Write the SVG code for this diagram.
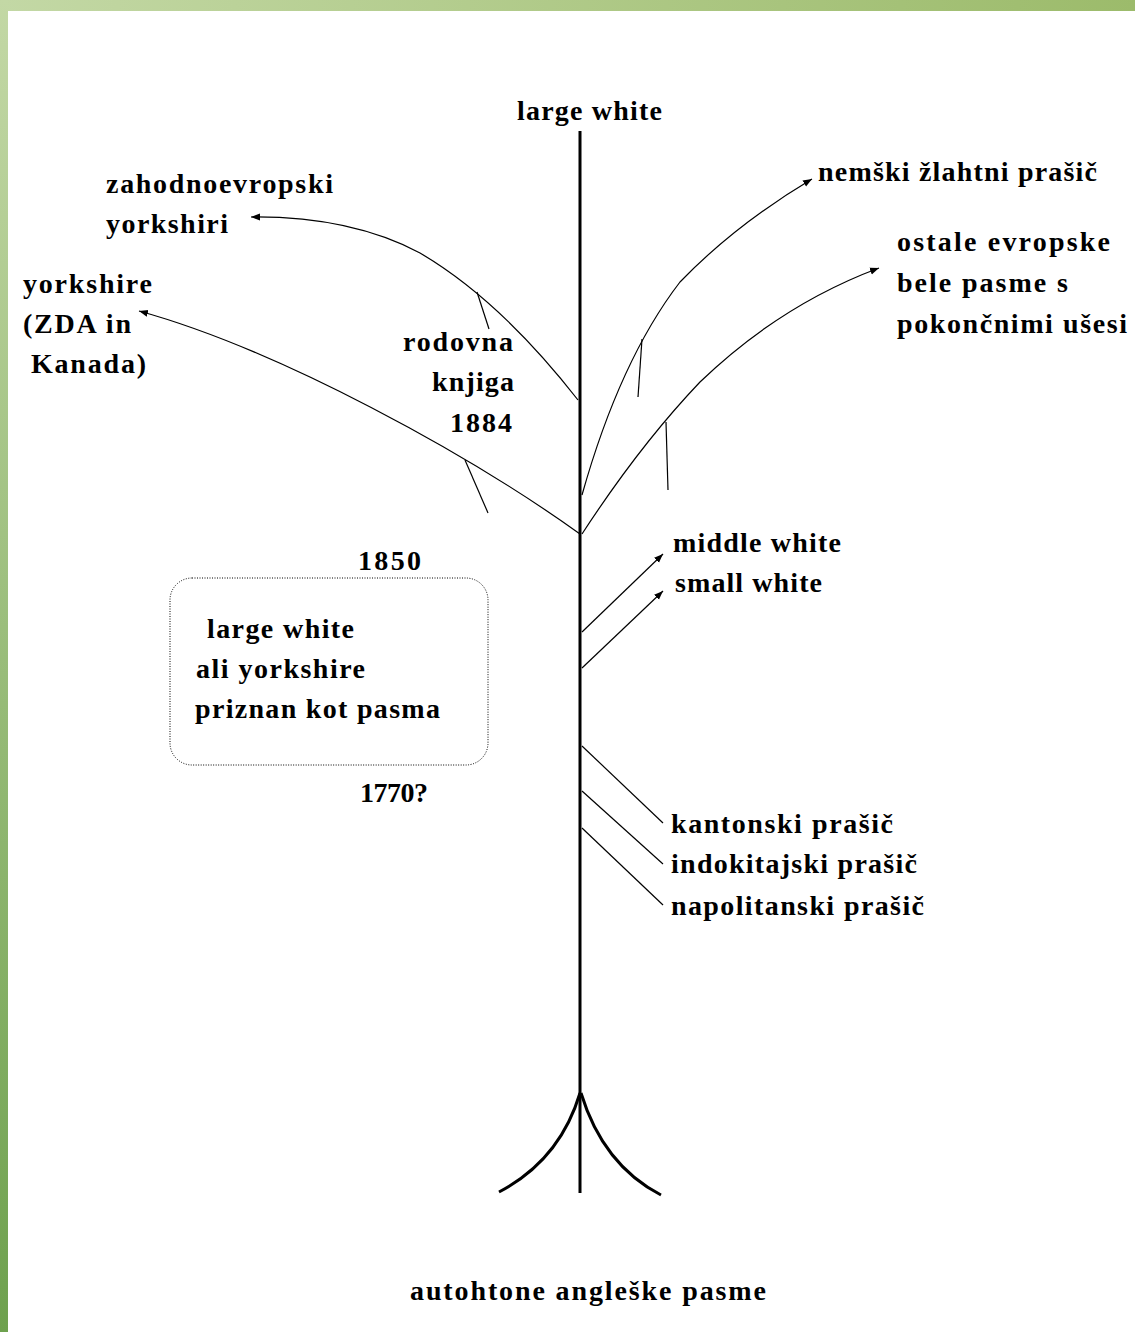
<svg xmlns="http://www.w3.org/2000/svg" width="1135" height="1332" viewBox="0 0 1135 1332">
  <defs>
    <linearGradient id="gTop" x1="0" y1="0" x2="1" y2="0">
      <stop offset="0" stop-color="#c3d8a5"/>
      <stop offset="1" stop-color="#9cbb6b"/>
    </linearGradient>
    <linearGradient id="gLeft" x1="0" y1="0" x2="0" y2="1">
      <stop offset="0" stop-color="#c3d8a5"/>
      <stop offset="1" stop-color="#6ea14e"/>
    </linearGradient>
    <marker id="arr" markerUnits="userSpaceOnUse" markerWidth="10" markerHeight="8" refX="9" refY="4" orient="auto">
      <path d="M0,0.5 L9,4 L0,7.5 z" fill="#000"/>
    </marker>
    <style>
      text { font-family: "Liberation Serif", "Times New Roman", serif; font-weight: bold; font-size: 28px; fill: #000; }
      .br { fill: none; stroke: #000; stroke-width: 1.2; }
      .ar { fill: none; stroke: #000; stroke-width: 1.2; marker-end: url(#arr); }
      .thick { fill: none; stroke: #000; stroke-width: 3; }
    </style>
  </defs>

  <rect x="0" y="0" width="1135" height="1332" fill="#fff"/>
  <rect x="0" y="0" width="1135" height="11" fill="url(#gTop)"/>
  <rect x="0" y="0" width="8" height="1332" fill="url(#gLeft)"/>

  <g id="connectors">
    <line class="thick" x1="580" y1="131" x2="580" y2="1193"/>
    <path class="thick" d="M580,1093 Q560,1160 499,1192"/>
    <path class="thick" d="M581,1093 Q603,1165 661,1195"/>
    <path class="ar" d="M578,400 Q500,300 420,253 Q350,216 251,217"/>
    <line class="br" x1="477" y1="292" x2="489" y2="329"/>
    <path class="ar" d="M580,534 C470,455 280,350 139,311"/>
    <line class="br" x1="465" y1="460" x2="488" y2="513"/>
    <path class="ar" d="M582,495 Q620,360 680,282 Q735,225 812,179"/>
    <line class="br" x1="642" y1="339" x2="638" y2="397"/>
    <path class="ar" d="M582,534 Q640,445 700,382 Q780,305 879,268"/>
    <line class="br" x1="666" y1="422" x2="668" y2="490"/>
    <line class="ar" x1="582" y1="632" x2="663" y2="554"/>
    <line class="ar" x1="582" y1="668" x2="663" y2="591"/>
    <line class="br" x1="582" y1="746" x2="663" y2="823"/>
    <line class="br" x1="582" y1="791" x2="663" y2="864"/>
    <line class="br" x1="582" y1="828" x2="663" y2="905"/>
  </g>

  <g id="node-large-white"><text x="517" y="120" textLength="145" lengthAdjust="spacing">large white</text></g>
  <g id="node-zahodnoevropski">
    <text x="106" y="193" textLength="227" lengthAdjust="spacing">zahodnoevropski</text>
    <text x="106" y="233" textLength="122" lengthAdjust="spacing">yorkshiri</text>
  </g>
  <g id="node-yorkshire">
    <text x="23" y="293" textLength="129" lengthAdjust="spacing">yorkshire</text>
    <text x="23" y="333" textLength="108" lengthAdjust="spacing">(ZDA in</text>
    <text x="31" y="373" textLength="115" lengthAdjust="spacing">Kanada)</text>
  </g>
  <g id="node-rodovna">
    <text x="403" y="351" textLength="110" lengthAdjust="spacing">rodovna</text>
    <text x="432" y="391" textLength="82" lengthAdjust="spacing">knjiga</text>
    <text x="450" y="432" textLength="62" lengthAdjust="spacing">1884</text>
  </g>
  <g id="node-nemski"><text x="818" y="181" textLength="279" lengthAdjust="spacing">nemški žlahtni prašič</text></g>
  <g id="node-ostale">
    <text x="897" y="251" textLength="213" lengthAdjust="spacing">ostale evropske</text>
    <text x="897" y="292" textLength="171" lengthAdjust="spacing">bele pasme s</text>
    <text x="897" y="333" textLength="230" lengthAdjust="spacing">pokončnimi ušesi</text>
  </g>
  <g id="node-1850"><text x="358" y="570" textLength="63" lengthAdjust="spacing">1850</text></g>
  <g id="node-box">
    <rect x="170" y="578" width="318" height="187" rx="22" ry="22" fill="none" stroke="#000" stroke-width="1" stroke-dasharray="1 1.5"/>
    <text x="207" y="638" textLength="147" lengthAdjust="spacing">large white</text>
    <text x="196" y="678" textLength="169" lengthAdjust="spacing">ali yorkshire</text>
    <text x="195" y="718" textLength="245" lengthAdjust="spacing">priznan kot pasma</text>
  </g>
  <g id="node-1770"><text x="360" y="802" textLength="68" lengthAdjust="spacing">1770?</text></g>
  <g id="node-middle-white"><text x="673" y="552" textLength="168" lengthAdjust="spacing">middle white</text></g>
  <g id="node-small-white"><text x="675" y="592" textLength="147" lengthAdjust="spacing">small white</text></g>
  <g id="node-kantonski"><text x="671" y="833" textLength="222" lengthAdjust="spacing">kantonski prašič</text></g>
  <g id="node-indokitajski"><text x="671" y="873" textLength="246" lengthAdjust="spacing">indokitajski prašič</text></g>
  <g id="node-napolitanski"><text x="671" y="915" textLength="253" lengthAdjust="spacing">napolitanski prašič</text></g>
  <g id="node-autohtone"><text x="410" y="1300" textLength="356" lengthAdjust="spacing">autohtone angleške pasme</text></g>
</svg>
